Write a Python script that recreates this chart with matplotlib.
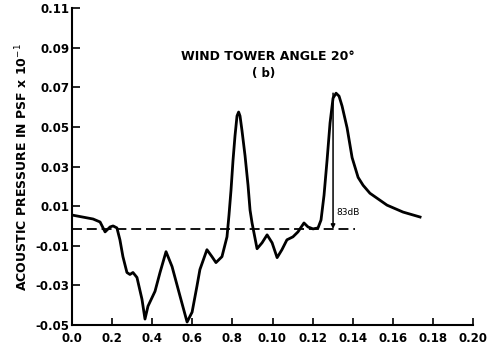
import matplotlib
matplotlib.use("Agg")
import matplotlib.pyplot as plt

# Trace of the acoustic pressure curve
freq = [0.0, 0.0105, 0.0140, 0.0165, 0.0190, 0.0205, 0.0224, 0.0239, 0.0254, 0.0274,
        0.0289, 0.0304, 0.0324, 0.0349, 0.0364, 0.0379, 0.0414, 0.0439, 0.0469, 0.0499,
        0.0539, 0.0574, 0.0599, 0.0623, 0.0638, 0.0673, 0.0698, 0.0718, 0.0748, 0.0773,
        0.0783, 0.0793, 0.0803, 0.0813, 0.0823, 0.0831, 0.0838, 0.0848, 0.0863, 0.0878,
        0.0888, 0.0898, 0.0923, 0.0948, 0.0973, 0.0998, 0.1023, 0.1047, 0.1072, 0.1102,
        0.1127, 0.1157, 0.1177, 0.1202, 0.1227, 0.1242, 0.1257, 0.1272, 0.1287, 0.1302,
        0.1317, 0.1332, 0.1347, 0.1372, 0.1397, 0.1427, 0.1452, 0.1486, 0.1571, 0.1651,
        0.1736]
pressure = [0.0055, 0.0035, 0.002, -0.003, -0.0005, 0.0, -0.001, -0.007, -0.0155, -0.0235,
            -0.0245, -0.0235, -0.026, -0.037, -0.047, -0.0405, -0.033, -0.0235, -0.013, -0.0205,
            -0.0355, -0.0485, -0.0435, -0.0305, -0.022, -0.012, -0.0155, -0.0185, -0.0155, -0.0055,
            0.0055, 0.018, 0.033, 0.0455, 0.0555, 0.0575, 0.0555, 0.048, 0.0355, 0.0205,
            0.008, 0.0015, -0.0115, -0.0085, -0.0045, -0.0085, -0.016, -0.012, -0.007, -0.0055,
            -0.003, 0.0015, -0.0005, -0.0015, -0.001, 0.003, 0.0155, 0.033, 0.052, 0.0645,
            0.067, 0.0655, 0.0605, 0.0495, 0.0345, 0.0245, 0.0205, 0.0165, 0.0105, 0.007,
            0.0045]

# reference (dashed) level and the 83 dB marker
ref_level = -0.0015
ref_end = 0.141
marker_x = 0.1302
marker_top = 0.067

xticks = [0.0, 0.02, 0.04, 0.06, 0.08, 0.10, 0.12, 0.14, 0.16, 0.18, 0.20]
xlabels = ["0.0", "0.2", "0.4", "0.6", "0.8", "0.10", "0.12", "0.14", "0.16", "0.18", "0.20"]
yticks = [0.11, 0.09, 0.07, 0.05, 0.03, 0.01, -0.01, -0.03, -0.05]
ylabels = ["0.11", "0.09", "0.07", "0.05", "0.03", "0.01", "-0.01", "-0.03", "-0.05"]

fig = plt.figure(figsize=(4.97, 3.5), dpi=100)
ax = fig.add_axes([72 / 497, 25 / 350, 401 / 497, 317 / 350])

ax.plot(freq, pressure, color="black", lw=2.0, solid_joinstyle="round")
ax.plot([0.0, ref_end], [ref_level, ref_level], color="black", lw=1.3,
        linestyle=(0, (5.5, 2.7)))

# vertical marker with arrow down to the reference line
ax.annotate("", xy=(marker_x, ref_level), xytext=(marker_x, marker_top),
            arrowprops=dict(arrowstyle="-|>", color="black", lw=1.1,
                            mutation_scale=6, shrinkA=0, shrinkB=0))
ax.text(marker_x + 0.0018, 0.007, "83dB", fontsize=6.5, va="center", ha="left")

ax.text(0.0978, 0.0855, "WIND TOWER ANGLE 20°", fontsize=9, fontweight="bold",
        ha="center", va="center")
ax.text(0.0958, 0.0770, "( b)", fontsize=8.5, fontweight="bold",
        ha="center", va="center")

ax.set_xlim(0.0, 0.20)
ax.set_ylim(-0.05, 0.11)
ax.set_xticks(xticks)
ax.set_xticklabels(xlabels, fontsize=8.5, fontweight="bold")
ax.set_yticks(yticks)
ax.set_yticklabels(ylabels, fontsize=8.5, fontweight="bold")
ax.tick_params(axis="both", direction="in", width=1.2)
ax.tick_params(axis="y", length=6, pad=2)
ax.tick_params(axis="x", length=5, pad=5)

for side in ["top", "right"]:
    ax.spines[side].set_visible(False)
for side in ["left", "bottom"]:
    ax.spines[side].set_linewidth(1.5)

fig.text(22 / 497, 1 - 167 / 350, "ACOUSTIC PRESSURE IN PSF x 10$^{-1}$",
         rotation=90, fontsize=9, fontweight="bold", ha="center", va="center")

fig.savefig("out.png", dpi=100)
